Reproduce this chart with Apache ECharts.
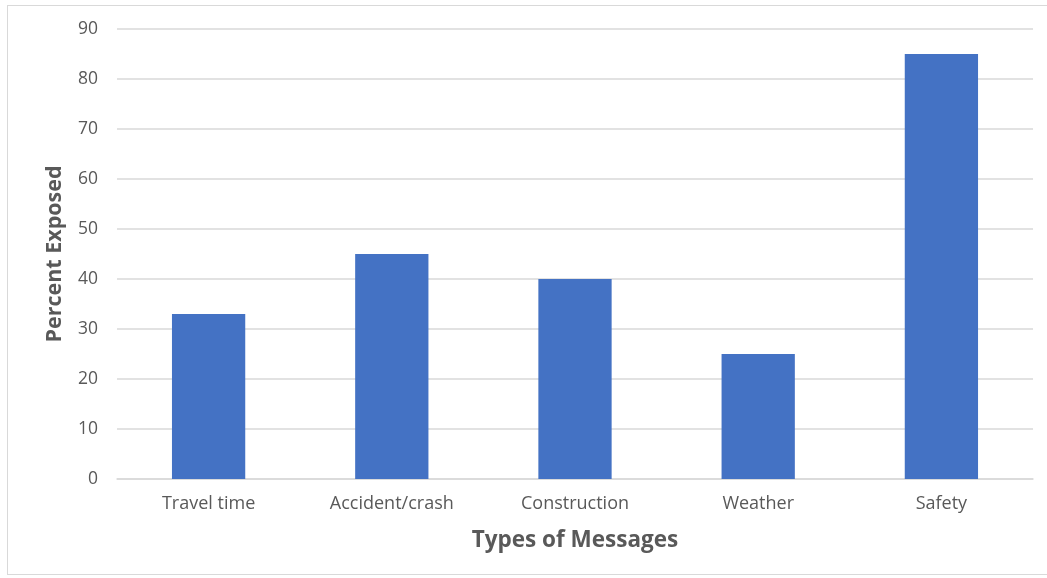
<!DOCTYPE html>
<html><head><meta charset="utf-8">
<script src="https://cdn.jsdelivr.net/npm/echarts@6/dist/echarts.min.js"></script>
<style>html,body{margin:0;padding:0;background:#fff;}#frame{position:absolute;left:7px;top:5px;width:1045px;height:570px;border:1.5px solid #d9d9d9;box-sizing:border-box;}#c{width:1047px;height:578px;position:absolute;left:0;top:0;}</style>
</head><body><div id="frame"></div><div id="c"></div>
<script>
const categories = ["Travel time", "Accident/crash", "Construction", "Weather", "Safety"];
const percentExposed = [33, 45, 40, 25, 85];
const yTicks = {min: 0, max: 90, interval: 10};

const chart = echarts.init(document.getElementById('c'), null, {renderer: 'canvas'});
const font = '"Open Sans", "Noto Sans", sans-serif';
chart.setOption({
  animation: false,
  grid: {left: 117, right: 14, top: 29, bottom: 99, containLabel: false},
  xAxis: {
    type: 'category', data: categories,
    name: 'Types of Messages', nameLocation: 'middle', nameGap: 50,
    nameTextStyle: {fontFamily: font, fontSize: 22.5, fontWeight: 'bold', color: '#595959'},
    axisLine: {lineStyle: {color: '#d9d9d9', width: 1.5}},
    axisTick: {show: false},
    axisLabel: {fontFamily: font, fontSize: 18, color: '#595959', margin: 16}
  },
  yAxis: {
    type: 'value', min: yTicks.min, max: yTicks.max, interval: yTicks.interval,
    name: 'Percent Exposed', nameLocation: 'middle', nameGap: 51, nameRotate: 90,
    nameTextStyle: {fontFamily: font, fontSize: 21.5, fontWeight: 'bold', color: '#595959'},
    axisLine: {show: false}, axisTick: {show: false},
    axisLabel: {fontFamily: font, fontSize: 17.5, color: '#595959', margin: 19},
    splitLine: {lineStyle: {color: '#d9d9d9', width: 1.5}}
  },
  series: [{
    type: 'bar', data: percentExposed, barCategoryGap: '60%',
    itemStyle: {color: '#4472c4'}
  }]
});
</script></body></html>
